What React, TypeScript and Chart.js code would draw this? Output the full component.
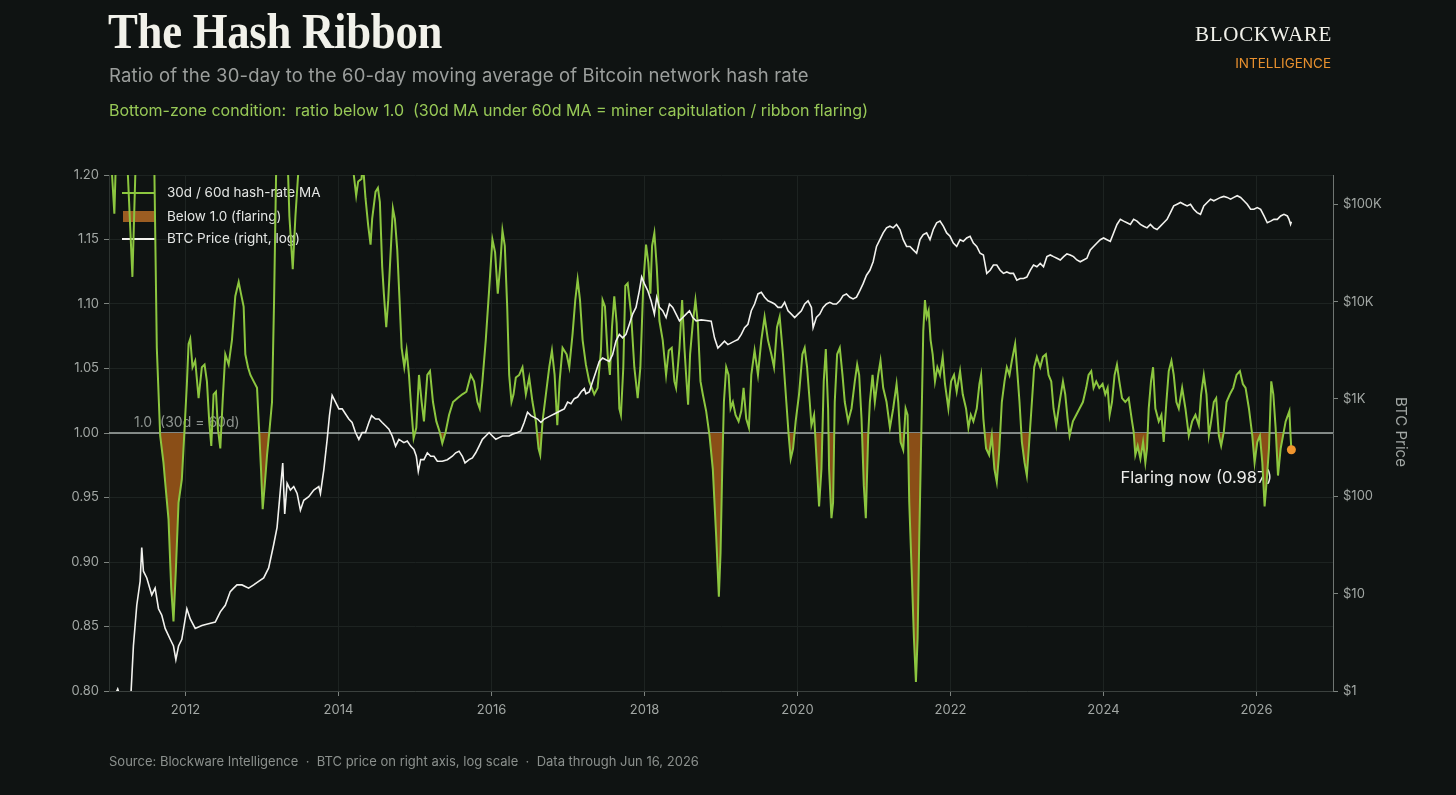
import React, { useEffect, useRef } from 'react';
import { Chart, registerables } from 'chart.js';

Chart.register(...registerables);

// ---- axes ----
const X_MIN = 2011;
const X_MAX = 2027;
const YEAR_TICKS = [2012, 2014, 2016, 2018, 2020, 2022, 2024, 2026];
const RATIO_MIN = 0.8;
const RATIO_MAX = 1.2;
const RATIO_TICKS = [0.8, 0.85, 0.9, 0.95, 1.0, 1.05, 1.1, 1.15, 1.2];
const PRICE_MIN = 1;
const PRICE_MAX = 200000;
const PRICE_TICKS = [1, 10, 100, 1000, 10000, 100000];
const PRICE_TICK_LABELS = ['$1', '$10', '$100', '$1K', '$10K', '$100K'];

// ---- reference level and latest reading ----
const THRESHOLD = 1.0;
const LAST_DATE = 2026.456; // Jun 16, 2026
const FLARING_NOW = 0.987;

// ---- 30d / 60d hash-rate MA ratio, [decimal year, ratio] ----
const RATIO_2011_2013: [number, number][] = [
  [2011.0, 1.24], [2011.07, 1.17], [2011.114, 1.26], [2011.17, 1.38], [2011.232, 1.22],
  [2011.306, 1.121], [2011.363, 1.24], [2011.47, 1.42], [2011.56, 1.3], [2011.594, 1.2],
  [2011.625, 1.066], [2011.669, 0.998], [2011.712, 0.977], [2011.734, 0.962], [2011.778, 0.933],
  [2011.813, 0.88], [2011.843, 0.854], [2011.874, 0.894], [2011.909, 0.946], [2011.952, 0.964],
  [2011.983, 0.998], [2012.018, 1.038], [2012.04, 1.069], [2012.062, 1.073], [2012.092, 1.051],
  [2012.127, 1.056], [2012.171, 1.027], [2012.214, 1.051], [2012.249, 1.053], [2012.28, 1.04],
  [2012.31, 1.009], [2012.337, 0.99], [2012.367, 1.03], [2012.398, 1.032], [2012.424, 1.003],
  [2012.455, 0.988], [2012.485, 1.024], [2012.52, 1.061], [2012.564, 1.053], [2012.607, 1.072],
  [2012.651, 1.106], [2012.695, 1.117], [2012.725, 1.108], [2012.76, 1.098], [2012.782, 1.061],
  [2012.817, 1.051], [2012.848, 1.045], [2012.891, 1.04], [2012.935, 1.035], [2012.966, 0.998],
  [2012.987, 0.972], [2013.009, 0.941], [2013.035, 0.959], [2013.066, 0.983], [2013.096, 1.001],
  [2013.131, 1.024], [2013.158, 1.103], [2013.184, 1.2], [2013.22, 1.33], [2013.3, 1.28],
  [2013.358, 1.168], [2013.402, 1.127], [2013.437, 1.168], [2013.472, 1.2], [2013.55, 1.4],
  [2013.75, 1.5], [2013.95, 1.45],
];

const RATIO_2014_2016: [number, number][] = [
  [2014.135, 1.3], [2014.2, 1.2], [2014.231, 1.184], [2014.257, 1.195], [2014.301, 1.197],
  [2014.318, 1.21], [2014.353, 1.182], [2014.388, 1.161], [2014.419, 1.146], [2014.44, 1.166],
  [2014.484, 1.187], [2014.515, 1.19], [2014.541, 1.179], [2014.571, 1.129], [2014.593, 1.108],
  [2014.624, 1.082], [2014.65, 1.103], [2014.672, 1.129], [2014.711, 1.174], [2014.737, 1.166],
  [2014.768, 1.142], [2014.798, 1.103], [2014.825, 1.066], [2014.86, 1.051], [2014.89, 1.064],
  [2014.921, 1.045], [2014.951, 1.019], [2014.982, 0.996], [2015.017, 1.004], [2015.052, 1.045],
  [2015.087, 1.024], [2015.117, 1.009], [2015.161, 1.045], [2015.196, 1.048], [2015.235, 1.024],
  [2015.279, 1.009], [2015.322, 1.001], [2015.357, 0.992], [2015.401, 1.001], [2015.445, 1.014],
  [2015.497, 1.024], [2015.554, 1.027], [2015.619, 1.03], [2015.672, 1.032], [2015.729, 1.045],
  [2015.772, 1.04], [2015.816, 1.024], [2015.846, 1.019], [2015.881, 1.04], [2015.925, 1.072],
  [2015.969, 1.111], [2016.012, 1.15], [2016.047, 1.14], [2016.082, 1.108], [2016.113, 1.129],
  [2016.143, 1.157], [2016.174, 1.145], [2016.205, 1.098], [2016.231, 1.045], [2016.261, 1.024],
  [2016.288, 1.03], [2016.318, 1.043], [2016.362, 1.045], [2016.405, 1.051], [2016.449, 1.03],
  [2016.493, 1.043], [2016.536, 1.024], [2016.58, 1.009], [2016.615, 0.988], [2016.637, 0.983],
  [2016.667, 1.009], [2016.711, 1.03], [2016.755, 1.051], [2016.79, 1.064], [2016.825, 1.045],
  [2016.86, 1.006], [2016.89, 1.04], [2016.929, 1.066], [2016.982, 1.061],
];

const RATIO_2017_2019: [number, number][] = [
  [2017.017, 1.051], [2017.06, 1.077], [2017.095, 1.103], [2017.126, 1.119], [2017.157, 1.103],
  [2017.191, 1.072], [2017.234, 1.053], [2017.278, 1.04], [2017.343, 1.03], [2017.387, 1.035],
  [2017.431, 1.064], [2017.452, 1.103], [2017.483, 1.098], [2017.518, 1.061], [2017.548, 1.045],
  [2017.575, 1.082], [2017.605, 1.106], [2017.636, 1.085], [2017.671, 1.019], [2017.692, 1.014],
  [2017.723, 1.051], [2017.749, 1.114], [2017.78, 1.116], [2017.824, 1.093], [2017.867, 1.051],
  [2017.911, 1.027], [2017.946, 1.051], [2017.985, 1.116], [2018.02, 1.146], [2018.05, 1.132],
  [2018.077, 1.108], [2018.099, 1.145], [2018.129, 1.155], [2018.16, 1.129], [2018.195, 1.087],
  [2018.238, 1.072], [2018.282, 1.045], [2018.317, 1.064], [2018.356, 1.066], [2018.391, 1.04],
  [2018.413, 1.035], [2018.457, 1.066], [2018.492, 1.103], [2018.522, 1.066], [2018.544, 1.045],
  [2018.57, 1.022], [2018.596, 1.061], [2018.631, 1.085], [2018.666, 1.103], [2018.697, 1.085],
  [2018.732, 1.04], [2018.762, 1.03], [2018.806, 1.017], [2018.85, 0.998], [2018.893, 0.972],
  [2018.937, 0.92], [2018.972, 0.873], [2018.994, 0.907], [2019.016, 0.972], [2019.038, 1.024],
  [2019.068, 1.051], [2019.099, 1.045], [2019.125, 1.019], [2019.155, 1.024], [2019.19, 1.014],
  [2019.23, 1.009], [2019.265, 1.017], [2019.295, 1.035], [2019.33, 1.011], [2019.365, 1.004],
  [2019.396, 1.045], [2019.439, 1.064], [2019.483, 1.045], [2019.527, 1.072], [2019.57, 1.09],
  [2019.614, 1.072], [2019.658, 1.061], [2019.693, 1.051], [2019.732, 1.082], [2019.767, 1.09],
  [2019.81, 1.061], [2019.854, 1.024], [2019.885, 0.998], [2019.911, 0.98], [2019.942, 0.988],
  [2019.976, 1.009],
];

const RATIO_2020_2022: [number, number][] = [
  [2020.02, 1.03], [2020.064, 1.061], [2020.094, 1.066], [2020.125, 1.051], [2020.16, 1.024],
  [2020.182, 1.006], [2020.217, 1.014], [2020.256, 0.972], [2020.282, 0.943], [2020.313, 0.972],
  [2020.343, 1.04], [2020.37, 1.065], [2020.4, 1.019], [2020.413, 0.972], [2020.444, 0.934],
  [2020.465, 0.946], [2020.487, 1.024], [2020.518, 1.061], [2020.553, 1.066], [2020.588, 1.045],
  [2020.618, 1.024], [2020.662, 1.009], [2020.706, 1.019], [2020.749, 1.04], [2020.78, 1.053],
  [2020.806, 1.045], [2020.837, 1.011], [2020.867, 0.959], [2020.893, 0.934], [2020.924, 0.998],
  [2020.946, 1.024], [2020.981, 1.045], [2021.011, 1.024], [2021.055, 1.045], [2021.085, 1.056],
  [2021.12, 1.035], [2021.164, 1.024], [2021.208, 1.004], [2021.251, 1.019], [2021.295, 1.038],
  [2021.317, 1.024], [2021.347, 0.993], [2021.382, 0.987], [2021.413, 1.019], [2021.439, 1.014],
  [2021.461, 0.946], [2021.492, 0.894], [2021.522, 0.841], [2021.548, 0.807], [2021.57, 0.841],
  [2021.592, 0.92], [2021.618, 0.998], [2021.644, 1.079], [2021.666, 1.103], [2021.688, 1.09],
  [2021.714, 1.095], [2021.74, 1.072], [2021.767, 1.061], [2021.797, 1.04], [2021.828, 1.051],
  [2021.863, 1.045], [2021.898, 1.059], [2021.928, 1.038], [2021.972, 1.019], [2022.007, 1.04],
  [2022.046, 1.045], [2022.081, 1.032], [2022.125, 1.048], [2022.16, 1.03], [2022.203, 1.019],
  [2022.234, 1.004], [2022.265, 1.014], [2022.299, 1.009], [2022.343, 1.019], [2022.378, 1.038],
  [2022.4, 1.045], [2022.43, 1.011], [2022.465, 0.988], [2022.505, 0.983], [2022.54, 0.998],
  [2022.574, 0.972], [2022.605, 0.962], [2022.636, 0.985], [2022.671, 1.024], [2022.706, 1.04],
  [2022.736, 1.051], [2022.771, 1.045], [2022.802, 1.056], [2022.845, 1.069], [2022.876, 1.045],
  [2022.902, 1.024], [2022.933, 0.993], [2022.968, 0.977],
];

const RATIO_2023_2026: [number, number][] = [
  [2022.998, 0.967], [2023.029, 0.993], [2023.064, 1.024], [2023.094, 1.051], [2023.129, 1.059],
  [2023.173, 1.051], [2023.208, 1.059], [2023.247, 1.061], [2023.282, 1.045], [2023.317, 1.04],
  [2023.347, 1.019], [2023.382, 1.006], [2023.426, 1.024], [2023.47, 1.04], [2023.5, 1.03],
  [2023.531, 1.011], [2023.557, 0.998], [2023.6, 1.009], [2023.643, 1.014], [2023.687, 1.019],
  [2023.731, 1.024], [2023.774, 1.035], [2023.805, 1.045], [2023.84, 1.048], [2023.87, 1.035],
  [2023.905, 1.04], [2023.945, 1.035], [2023.988, 1.038], [2024.023, 1.03], [2024.054, 1.035],
  [2024.08, 1.014], [2024.111, 1.024], [2024.145, 1.045], [2024.176, 1.053], [2024.207, 1.04],
  [2024.242, 1.027], [2024.285, 1.024], [2024.329, 1.027], [2024.373, 1.009], [2024.394, 1.001],
  [2024.416, 0.983], [2024.447, 0.99], [2024.482, 0.98], [2024.517, 0.993], [2024.547, 0.977],
  [2024.569, 0.988], [2024.591, 1.019], [2024.621, 1.04], [2024.648, 1.051], [2024.678, 1.019],
  [2024.722, 1.009], [2024.757, 1.014], [2024.787, 0.993], [2024.822, 1.024], [2024.853, 1.048],
  [2024.888, 1.056], [2024.918, 1.045], [2024.953, 1.024], [2024.984, 1.019], [2025.028, 1.035],
  [2025.071, 1.019], [2025.115, 0.998], [2025.159, 1.009], [2025.202, 1.014], [2025.246, 1.006],
  [2025.276, 1.03], [2025.311, 1.045], [2025.346, 1.03], [2025.377, 0.998], [2025.407, 1.009],
  [2025.442, 1.024], [2025.473, 1.027], [2025.508, 0.998], [2025.538, 0.99], [2025.573, 1.001],
  [2025.608, 1.024], [2025.652, 1.03], [2025.696, 1.035], [2025.739, 1.045], [2025.783, 1.048],
  [2025.822, 1.038], [2025.857, 1.035], [2025.901, 1.019], [2025.945, 0.998], [2025.975, 0.977],
  [2026.01, 0.993], [2026.045, 0.998], [2026.076, 0.977], [2026.106, 0.943], [2026.132, 0.962],
  [2026.163, 0.988], [2026.193, 1.04], [2026.22, 1.03], [2026.25, 1.004], [2026.281, 0.967],
  [2026.316, 0.988], [2026.347, 0.998], [2026.381, 1.009], [2026.412, 1.014], [2026.43, 1.017],
  [2026.445, 0.998],
];

// ---- BTC price in USD, [decimal year, price] ----
const PRICE_2011_2013: [number, number][] = [
  [2011.02, 0.7], [2011.09, 0.95], [2011.114, 1.05], [2011.14, 0.9], [2011.2, 0.8],
  [2011.289, 1.0], [2011.319, 2.9], [2011.363, 7.6], [2011.407, 13.4], [2011.428, 29.7],
  [2011.45, 17], [2011.494, 14.5], [2011.559, 9.7], [2011.603, 11.4], [2011.647, 7.0],
  [2011.69, 6.0], [2011.734, 4.4], [2011.8, 3.4], [2011.843, 2.9], [2011.874, 2.1],
  [2011.909, 2.9], [2011.952, 3.4], [2012.018, 7.0], [2012.062, 5.5], [2012.127, 4.4],
  [2012.214, 4.7], [2012.301, 4.9], [2012.389, 5.1], [2012.455, 6.5], [2012.52, 7.6],
  [2012.585, 10.5], [2012.629, 11.4], [2012.673, 12.3], [2012.738, 12.3], [2012.825, 11.4],
  [2012.891, 12.3], [2012.956, 13.4], [2013.022, 14.5], [2013.087, 18.4], [2013.153, 32],
  [2013.197, 48], [2013.24, 116], [2013.271, 220], [2013.297, 66], [2013.328, 136],
  [2013.371, 116], [2013.415, 126], [2013.459, 107], [2013.502, 72], [2013.546, 91],
  [2013.611, 99], [2013.677, 116], [2013.742, 126], [2013.764, 107], [2013.808, 187],
  [2013.852, 385], [2013.882, 675], [2013.917, 1090], [2013.961, 929],
];

const PRICE_2014_2016: [number, number][] = [
  [2014.005, 791], [2014.048, 791], [2014.092, 700], [2014.135, 622], [2014.178, 574],
  [2014.222, 452], [2014.266, 385], [2014.309, 452], [2014.353, 452], [2014.397, 574],
  [2014.432, 675], [2014.484, 622], [2014.528, 622], [2014.571, 574], [2014.615, 531],
  [2014.659, 490], [2014.702, 417], [2014.746, 328], [2014.79, 385], [2014.855, 356],
  [2014.899, 370], [2014.943, 328], [2014.986, 303], [2015.017, 258], [2015.043, 180],
  [2015.074, 238], [2015.117, 238], [2015.161, 280], [2015.205, 258], [2015.248, 258],
  [2015.292, 229], [2015.357, 229], [2015.423, 238], [2015.488, 258], [2015.532, 280],
  [2015.576, 291], [2015.619, 258], [2015.654, 220], [2015.707, 238], [2015.75, 248],
  [2015.794, 280], [2015.838, 328], [2015.881, 385], [2015.925, 417], [2015.969, 452],
  [2016.012, 417], [2016.056, 385], [2016.1, 401], [2016.143, 417], [2016.231, 417],
  [2016.274, 434], [2016.34, 452], [2016.384, 470], [2016.427, 574], [2016.471, 731],
  [2016.515, 675], [2016.558, 647], [2016.602, 622], [2016.646, 574], [2016.689, 622],
  [2016.733, 647], [2016.777, 675], [2016.82, 702], [2016.864, 731], [2016.908, 760],
  [2016.951, 791], [2016.995, 929],
];

const PRICE_2017_2019: [number, number][] = [
  [2017.039, 893], [2017.082, 1007], [2017.126, 1047], [2017.17, 1180], [2017.213, 1278],
  [2017.234, 1130], [2017.278, 1180], [2017.321, 1500], [2017.365, 1910], [2017.409, 2430],
  [2017.452, 2630], [2017.496, 2525], [2017.54, 2430], [2017.583, 2850], [2017.627, 3930],
  [2017.671, 4610], [2017.714, 4250], [2017.758, 4610], [2017.802, 5850], [2017.845, 7440],
  [2017.889, 8730], [2017.933, 13000], [2017.963, 17900], [2017.998, 15300], [2018.042, 13000],
  [2018.086, 10200], [2018.129, 7440], [2018.16, 11100], [2018.195, 8730], [2018.238, 8060],
  [2018.282, 6870], [2018.326, 9460], [2018.369, 8730], [2018.413, 7440], [2018.457, 6340],
  [2018.5, 6870], [2018.544, 7440], [2018.588, 8060], [2018.631, 6870], [2018.675, 6340],
  [2018.741, 6500], [2018.806, 6400], [2018.872, 6300], [2018.915, 4250], [2018.959, 3340],
  [2019.003, 3620], [2019.046, 3930], [2019.09, 3620], [2019.134, 3770], [2019.177, 3930],
  [2019.221, 4080], [2019.265, 4610], [2019.308, 5400], [2019.352, 5850], [2019.396, 8060],
  [2019.439, 9460], [2019.483, 12000], [2019.527, 12500], [2019.57, 11100], [2019.614, 10200],
  [2019.658, 9850], [2019.701, 9460], [2019.745, 8730], [2019.789, 8730], [2019.832, 9850],
  [2019.876, 8060], [2019.92, 7440], [2019.963, 6870],
];

const PRICE_2020_2022: [number, number][] = [
  [2020.007, 7440], [2020.051, 8060], [2020.094, 9460], [2020.138, 10200], [2020.182, 8730],
  [2020.204, 5400], [2020.247, 6870], [2020.291, 7440], [2020.335, 8730], [2020.378, 9460],
  [2020.422, 9850], [2020.465, 9460], [2020.509, 9460], [2020.553, 10200], [2020.596, 11560],
  [2020.64, 12000], [2020.684, 11100], [2020.727, 10670], [2020.771, 11100], [2020.815, 13000],
  [2020.858, 15300], [2020.902, 18700], [2020.946, 21000], [2020.989, 25700], [2021.033, 36900],
  [2021.077, 43300], [2021.12, 50800], [2021.164, 57300], [2021.208, 59600], [2021.251, 57300],
  [2021.295, 62100], [2021.339, 55100], [2021.382, 43300], [2021.426, 36900], [2021.47, 36900],
  [2021.513, 34000], [2021.557, 31400], [2021.601, 43300], [2021.644, 48800], [2021.688, 50800],
  [2021.732, 43300], [2021.775, 55100], [2021.819, 64600], [2021.863, 67200], [2021.906, 59600],
  [2021.95, 50800], [2021.994, 46900], [2022.037, 40000], [2022.081, 36900], [2022.125, 43300],
  [2022.168, 41600], [2022.212, 45100], [2022.256, 46900], [2022.299, 40000], [2022.343, 36900],
  [2022.387, 31400], [2022.43, 30200], [2022.474, 19500], [2022.518, 21000], [2022.561, 23800],
  [2022.605, 23800], [2022.649, 21000], [2022.692, 19500], [2022.736, 20200], [2022.78, 19500],
  [2022.823, 19500], [2022.867, 16600], [2022.911, 17300], [2022.954, 17300], [2022.998, 17900],
];

const PRICE_2023_2026: [number, number][] = [
  [2023.042, 21000], [2023.085, 23800], [2023.129, 22800], [2023.173, 24700], [2023.216, 22800],
  [2023.26, 29000], [2023.304, 30200], [2023.347, 29000], [2023.391, 27900], [2023.435, 26800],
  [2023.479, 29000], [2023.522, 30900], [2023.565, 30200], [2023.608, 29000], [2023.652, 26800],
  [2023.696, 25700], [2023.739, 26800], [2023.783, 27900], [2023.827, 34000], [2023.87, 36900],
  [2023.914, 40000], [2023.958, 43300], [2024.001, 45100], [2024.045, 43300], [2024.089, 41600],
  [2024.132, 50800], [2024.176, 62100], [2024.22, 70000], [2024.263, 67200], [2024.307, 64600],
  [2024.351, 62100], [2024.394, 70000], [2024.438, 67200], [2024.482, 62100], [2024.525, 59600],
  [2024.569, 57300], [2024.613, 62100], [2024.656, 57300], [2024.7, 55100], [2024.744, 59600],
  [2024.787, 64600], [2024.831, 70000], [2024.875, 82100], [2024.918, 96300], [2024.962, 100200],
  [2025.006, 104400], [2025.049, 100200], [2025.093, 96300], [2025.137, 100200], [2025.18, 88900],
  [2025.224, 82100], [2025.268, 78900], [2025.311, 96300], [2025.355, 104400], [2025.399, 113000],
  [2025.442, 108600], [2025.486, 113000], [2025.53, 117700], [2025.573, 120500], [2025.617, 117700],
  [2025.661, 113000], [2025.704, 117700], [2025.748, 122500], [2025.792, 117700], [2025.835, 108600],
  [2025.879, 100200], [2025.923, 88900], [2025.966, 88900], [2026.01, 92500], [2026.054, 88900],
  [2026.098, 75900], [2026.141, 64600], [2026.185, 67200], [2026.228, 70000], [2026.272, 70000],
  [2026.316, 75900], [2026.359, 78900], [2026.403, 75900], [2026.425, 70000], [2026.445, 62100],
  [2026.456, 66000],
];

// ---- palette ----
const BG = '#0f1312';
const GREEN = '#8cc63f';
const FLARE_FILL = '#8a4e17';
const FLARE_SWATCH = '#9c5d22';
const PRICE_COLOR = '#f2f2ee';
const ORANGE = '#f0952e';
const TICK_TEXT = '#a2a7a4';
const GRID = '#1d2321';

const SANS = 'Inter, "Noto Sans", sans-serif';

const RATIO_SERIES = [
  ...RATIO_2011_2013,
  ...RATIO_2014_2016,
  ...RATIO_2017_2019,
  ...RATIO_2020_2022,
  ...RATIO_2023_2026,
  [LAST_DATE, FLARING_NOW] as [number, number],
];
const PRICE_SERIES = [
  ...PRICE_2011_2013,
  ...PRICE_2014_2016,
  ...PRICE_2017_2019,
  ...PRICE_2020_2022,
  ...PRICE_2023_2026,
];

const LEGEND_ITEMS = [
  { label: '30d / 60d hash-rate MA', kind: 'line', color: GREEN },
  { label: 'Below 1.0 (flaring)', kind: 'box', color: FLARE_SWATCH },
  { label: 'BTC Price (right, log)', kind: 'line', color: PRICE_COLOR },
];

// Threshold line, its caption, the in-plot legend and the latest-reading note.
const annotationPlugin = {
  id: 'ribbonAnnotations',
  beforeDatasetsDraw(chart: any) {
    const { ctx, chartArea, scales } = chart;
    const yOne = scales.y.getPixelForValue(THRESHOLD);
    ctx.save();

    ctx.strokeStyle = '#a9b0ac';
    ctx.lineWidth = 1.5;
    ctx.beginPath();
    ctx.moveTo(chartArea.left, yOne);
    ctx.lineTo(chartArea.right, yOne);
    ctx.stroke();

    ctx.font = `14px ${SANS}`;
    ctx.fillStyle = '#8d938f';
    ctx.textAlign = 'left';
    ctx.textBaseline = 'alphabetic';
    ctx.fillText(`${THRESHOLD.toFixed(1)}  (30d = 60d)`, chartArea.left + 25, yOne - 6);

    // legend
    const lx = chartArea.left + 13;
    const rowY = [chartArea.top + 18, chartArea.top + 41.5, chartArea.top + 64];
    ctx.font = `13.5px ${SANS}`;
    ctx.textBaseline = 'middle';
    LEGEND_ITEMS.forEach((item, i) => {
      const y = rowY[i];
      if (item.kind === 'line') {
        ctx.strokeStyle = item.color;
        ctx.lineWidth = 2;
        ctx.beginPath();
        ctx.moveTo(lx, y);
        ctx.lineTo(lx + 33, y);
        ctx.stroke();
      } else {
        ctx.fillStyle = item.color;
        ctx.fillRect(lx + 1, y - 5.5, 32, 11);
      }
      ctx.fillStyle = '#e4e6e4';
      ctx.fillText(item.label, lx + 45, y);
    });

    // latest reading note
    const nx = scales.x.getPixelForValue(LAST_DATE);
    const ny = scales.y.getPixelForValue(FLARING_NOW);
    ctx.font = `16.5px ${SANS}`;
    ctx.fillStyle = '#ececea';
    ctx.textAlign = 'right';
    ctx.textBaseline = 'alphabetic';
    ctx.fillText(`Flaring now (${FLARING_NOW.toFixed(3)})`, nx - 19, ny + 33);

    ctx.restore();
  },
};

function HashRibbonChart() {
  const canvasRef = useRef<HTMLCanvasElement | null>(null);

  useEffect(() => {
    const canvas = canvasRef.current;
    if (!canvas) return;

    const tickFont = { family: SANS, size: 13 };

    const chart = new Chart(canvas, {
      type: 'line',
      data: {
        datasets: [
          {
            label: 'Latest',
            data: [{ x: LAST_DATE, y: FLARING_NOW }],
            yAxisID: 'y',
            showLine: false,
            pointRadius: 4.5,
            pointBackgroundColor: ORANGE,
            pointBorderWidth: 0,
            order: 0,
          },
          {
            label: 'BTC Price (right, log)',
            data: PRICE_SERIES.map(([x, y]) => ({ x, y })),
            yAxisID: 'yPrice',
            borderColor: PRICE_COLOR,
            borderWidth: 1.6,
            pointRadius: 0,
            tension: 0,
            fill: false,
            order: 1,
          },
          {
            label: '30d / 60d hash-rate MA',
            data: RATIO_SERIES.map(([x, y]) => ({ x, y })),
            yAxisID: 'y',
            borderColor: GREEN,
            borderWidth: 2,
            pointRadius: 0,
            tension: 0,
            fill: { target: { value: THRESHOLD }, above: 'rgba(0,0,0,0)', below: FLARE_FILL },
            order: 2,
          },
        ],
      },
      options: {
        animation: false,
        responsive: false,
        maintainAspectRatio: false,
        events: [],
        layout: { padding: { left: 59, top: 175, right: 0, bottom: 64 } },
        scales: {
          x: {
            type: 'linear',
            min: X_MIN,
            max: X_MAX,
            afterBuildTicks: (axis: any) => {
              axis.ticks = YEAR_TICKS.map((value) => ({ value }));
            },
            afterFit: (axis: any) => {
              axis.height = 40;
            },
            ticks: {
              color: TICK_TEXT,
              font: tickFont,
              padding: 6,
              maxRotation: 0,
              autoSkip: false,
              callback: (v: any) => String(v),
            },
            grid: { color: GRID, tickColor: '#7d837f', tickLength: 5, lineWidth: 1 },
            border: { color: '#3b413e', width: 1 },
          },
          y: {
            type: 'linear',
            position: 'left',
            min: RATIO_MIN,
            max: RATIO_MAX,
            afterBuildTicks: (axis: any) => {
              axis.ticks = RATIO_TICKS.map((value) => ({ value }));
            },
            afterFit: (axis: any) => {
              axis.width = 50;
            },
            ticks: {
              color: TICK_TEXT,
              font: tickFont,
              padding: 5,
              callback: (v: any) => Number(v).toFixed(2),
            },
            grid: { color: GRID, tickColor: '#7d837f', tickLength: 5, lineWidth: 1 },
            border: { color: '#2d3330', width: 1 },
          },
          yPrice: {
            type: 'logarithmic',
            position: 'right',
            min: PRICE_MIN,
            max: PRICE_MAX,
            afterBuildTicks: (axis: any) => {
              axis.ticks = PRICE_TICKS.map((value) => ({ value }));
            },
            afterFit: (axis: any) => {
              axis.width = 123;
            },
            ticks: {
              color: TICK_TEXT,
              font: tickFont,
              padding: 5,
              callback: (v: any) => PRICE_TICK_LABELS[PRICE_TICKS.indexOf(Number(v))] ?? '',
            },
            grid: { drawOnChartArea: false, color: '#7d837f', tickColor: '#7d837f', tickLength: 5 },
            border: { color: '#6f7572', width: 1 },
          },
        },
        plugins: {
          legend: { display: false },
          tooltip: { enabled: false },
          title: { display: false },
        },
      },
      plugins: [annotationPlugin],
    } as any);

    return () => chart.destroy();
  }, []);

  return <canvas ref={canvasRef} width={1456} height={795} style={{ position: 'absolute', left: 0, top: 0 }} />;
}

export default function App() {
  useEffect(() => {
    document.body.style.margin = '0';
    document.body.style.background = BG;
  }, []);

  return (
    <div
      style={{
        position: 'fixed',
        left: 0,
        top: 0,
        width: 1456,
        height: 795,
        background: BG,
        overflow: 'hidden',
        fontFamily: SANS,
      }}
    >
      <HashRibbonChart />

      <div
        style={{
          position: 'absolute',
          left: 108,
          top: 6,
          fontFamily: '"Liberation Serif", "DejaVu Serif", serif',
          fontWeight: 700,
          fontSize: 50,
          lineHeight: '50px',
          color: '#f1f1ea',
          whiteSpace: 'nowrap',
          transform: 'scaleX(0.895)',
          transformOrigin: 'left top',
          letterSpacing: '-0.3px',
        }}
      >
        The Hash Ribbon
      </div>

      <div
        style={{
          position: 'absolute',
          left: 109,
          top: 66,
          fontSize: 18.5,
          lineHeight: '19px',
          letterSpacing: '0.15px',
          color: '#9b9e9c',
          whiteSpace: 'nowrap',
        }}
      >
        Ratio of the 30-day to the 60-day moving average of Bitcoin network hash rate
      </div>

      <div
        style={{
          position: 'absolute',
          left: 109,
          top: 102,
          fontSize: 16,
          lineHeight: '16px',
          color: '#98c957',
          whiteSpace: 'pre',
        }}
      >
        {'Bottom-zone condition:  ratio below 1.0  (30d MA under 60d MA = miner capitulation / ribbon flaring)'}
      </div>

      <div
        style={{
          position: 'absolute',
          right: 1456 - 1332,
          top: 24,
          fontFamily: '"Liberation Serif", "DejaVu Serif", serif',
          fontSize: 21,
          lineHeight: '21px',
          color: '#f1f1ea',
          letterSpacing: '0.7px',
          whiteSpace: 'nowrap',
        }}
      >
        BLOCKWARE
      </div>

      <div
        style={{
          position: 'absolute',
          right: 1456 - 1331,
          top: 56,
          fontSize: 13.5,
          lineHeight: '14px',
          color: '#e8902e',
          whiteSpace: 'nowrap',
        }}
      >
        INTELLIGENCE
      </div>

      <div
        style={{
          position: 'absolute',
          left: 1392,
          top: 432,
          transform: 'translate(0, -50%)',
          writingMode: 'vertical-rl',
          fontSize: 15,
          lineHeight: '18px',
          color: '#a3a8a5',
          whiteSpace: 'nowrap',
        }}
      >
        BTC Price
      </div>

      <div
        style={{
          position: 'absolute',
          left: 109,
          top: 755,
          fontSize: 13,
          lineHeight: '13px',
          color: '#8b908d',
          whiteSpace: 'pre',
        }}
      >
        {'Source: Blockware Intelligence  ·  BTC price on right axis, log scale  ·  Data through Jun 16, 2026'}
      </div>
    </div>
  );
}
